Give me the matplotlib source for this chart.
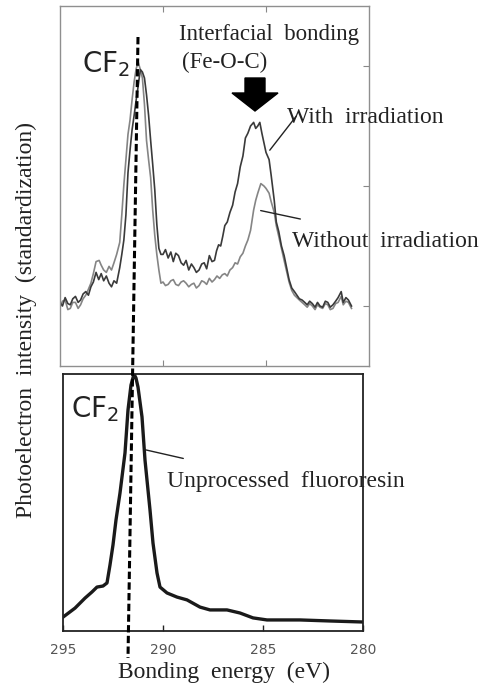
import matplotlib
matplotlib.use("Agg")
import matplotlib.pyplot as plt
from matplotlib.lines import Line2D
from matplotlib.patches import Polygon

W, H = 490, 686

# --- top panel: irradiated / non irradiated samples (binding energy eV, standardized intensity)
e_with = [295.0, 294.88, 294.75, 294.62, 294.5, 294.38, 294.25, 294.12, 294.0, 293.88,
          293.75, 293.62, 293.5, 293.38, 293.25, 293.12, 293.0, 292.88, 292.75, 292.62,
          292.5, 292.38, 292.25, 292.1, 292.0, 291.9, 291.8, 291.7, 291.6, 291.5,
          291.4, 291.3, 291.2, 291.1, 291.0, 290.9, 290.8, 290.7, 290.6, 290.5,
          290.4, 290.3, 290.2, 290.1, 290.0, 289.88, 289.75, 289.62, 289.5, 289.38,
          289.25, 289.12, 289.0, 288.88, 288.75, 288.62, 288.5, 288.38, 288.25, 288.12,
          288.0, 287.88, 287.75, 287.62, 287.5, 287.4, 287.3, 287.2, 287.1, 287.0,
          286.88, 286.75, 286.62, 286.5, 286.38, 286.25, 286.12, 286.0, 285.88, 285.75,
          285.6, 285.5, 285.4, 285.3, 285.2, 285.1, 285.0, 284.85, 284.75, 284.6,
          284.5, 284.38, 284.25, 284.12, 284.0, 283.88, 283.75, 283.62, 283.5, 283.38,
          283.25, 283.12, 283.0, 282.88, 282.75, 282.62, 282.5, 282.38, 282.25, 282.12,
          282.0, 281.88, 281.75, 281.62, 281.5, 281.35, 281.25, 281.12, 281.0, 280.85]
i_with = [1.03, 1.00, 1.07, 1.02, 1.01, 1.06, 1.08, 1.03, 1.05, 1.10,
          1.12, 1.09, 1.16, 1.20, 1.28, 1.22, 1.27, 1.21, 1.25, 1.19,
          1.16, 1.21, 1.19, 1.32, 1.43, 1.55, 1.76, 2.11, 2.30, 2.47,
          2.59, 2.72, 2.84, 2.97, 2.95, 2.90, 2.76, 2.59, 2.38, 2.18,
          1.97, 1.68, 1.48, 1.43, 1.43, 1.47, 1.40, 1.45, 1.37, 1.44,
          1.42, 1.36, 1.34, 1.38, 1.30, 1.35, 1.32, 1.28, 1.30, 1.35,
          1.36, 1.31, 1.42, 1.37, 1.38, 1.46, 1.51, 1.50, 1.58, 1.67,
          1.70, 1.78, 1.84, 1.95, 2.02, 2.16, 2.25, 2.40, 2.44, 2.50,
          2.53, 2.48, 2.50, 2.53, 2.44, 2.36, 2.28, 2.22, 2.09, 1.88,
          1.70, 1.62, 1.50, 1.42, 1.32, 1.22, 1.15, 1.12, 1.09, 1.06,
          1.05, 1.03, 1.01, 1.04, 1.02, 0.99, 1.03, 1.00, 0.99, 1.04,
          1.03, 0.99, 1.01, 1.04, 1.07, 1.12, 1.03, 1.07, 1.05, 1.00]

e_without = [295.0, 294.88, 294.75, 294.62, 294.5, 294.38, 294.25, 294.12, 294.0, 293.88,
             293.75, 293.62, 293.5, 293.38, 293.25, 293.1, 293.0, 292.88, 292.75, 292.62,
             292.5, 292.38, 292.25, 292.1, 292.0, 291.9, 291.8, 291.7, 291.6, 291.5,
             291.4, 291.3, 291.2, 291.1, 291.0, 290.9, 290.8, 290.7, 290.6, 290.5,
             290.4, 290.3, 290.2, 290.1, 290.0, 289.88, 289.75, 289.62, 289.5, 289.38,
             289.25, 289.12, 289.0, 288.88, 288.75, 288.62, 288.5, 288.38, 288.25, 288.12,
             288.0, 287.88, 287.75, 287.62, 287.5, 287.38, 287.25, 287.12, 287.0, 286.88,
             286.75, 286.62, 286.5, 286.38, 286.25, 286.12, 286.0, 285.88, 285.75, 285.6,
             285.5, 285.4, 285.25, 285.1, 285.0, 284.85, 284.75, 284.6, 284.5, 284.38,
             284.25, 284.12, 284.0, 283.88, 283.75, 283.62, 283.5, 283.38, 283.25, 283.12,
             283.0, 282.88, 282.75, 282.62, 282.5, 282.38, 282.25, 282.12, 282.0, 281.88,
             281.75, 281.62, 281.5, 281.35, 281.25, 281.12, 281.0, 280.85]
i_without = [0.99, 1.04, 1.05, 0.97, 0.98, 1.03, 1.03, 0.98, 1.01, 1.06,
             1.09, 1.14, 1.19, 1.27, 1.37, 1.38, 1.34, 1.30, 1.28, 1.33,
             1.30, 1.36, 1.43, 1.53, 1.76, 2.01, 2.22, 2.43, 2.55, 2.72,
             2.87, 2.98, 3.03, 2.97, 2.90, 2.68, 2.38, 2.22, 2.07, 1.80,
             1.59, 1.43, 1.30, 1.19, 1.20, 1.17, 1.18, 1.21, 1.22, 1.18,
             1.17, 1.20, 1.21, 1.19, 1.16, 1.18, 1.19, 1.15, 1.17, 1.21,
             1.20, 1.18, 1.23, 1.20, 1.22, 1.25, 1.23, 1.26, 1.27, 1.25,
             1.30, 1.32, 1.36, 1.35, 1.41, 1.44, 1.50, 1.55, 1.63, 1.80,
             1.88, 1.94, 2.02, 2.00, 1.98, 1.94, 1.87, 1.78, 1.67, 1.58,
             1.48, 1.38, 1.29, 1.20, 1.13, 1.09, 1.07, 1.05, 1.03, 1.01,
             0.99, 1.02, 1.00, 0.97, 1.01, 0.99, 0.98, 1.02, 1.01, 0.97,
             0.98, 1.02, 1.03, 1.08, 1.01, 1.04, 1.03, 0.98]

# --- bottom panel: unprocessed fluororesin
e_raw = [295.0, 294.4, 293.9, 293.55, 293.3, 293.0, 292.8, 292.65, 292.5, 292.35,
         292.15, 291.9, 291.75, 291.6, 291.45, 291.35, 291.25, 291.05, 290.9, 290.65,
         290.5, 290.3, 290.15, 289.8, 289.3, 288.8, 288.15, 287.65, 286.8, 286.15,
         285.5, 284.8, 283.15, 281.65, 280.0]
i_raw = [0.054, 0.089, 0.128, 0.152, 0.171, 0.175, 0.187, 0.257, 0.335, 0.432,
         0.537, 0.693, 0.86, 0.957, 1.0, 0.984, 0.949, 0.833, 0.665, 0.471,
         0.342, 0.226, 0.171, 0.148, 0.132, 0.121, 0.093, 0.082, 0.082, 0.07,
         0.051, 0.043, 0.043, 0.039, 0.035]

x_ticks = [295, 290, 285, 280]
top_yticks = [1, 2, 3]

serif = "Liberation Serif"
sans = "DejaVu Sans"


def fp(x, y):
    # pixel position (from top-left) -> figure fraction
    return x / W, 1 - y / H


fig = plt.figure(figsize=(W / 100, H / 100), dpi=100)
fig.patch.set_facecolor("white")

ax1 = fig.add_axes([60 / W, 1 - 366 / H, 309 / W, 360 / H])
ax2 = fig.add_axes([63 / W, 1 - 631 / H, 300 / W, 257 / H])

# top panel
ax1.plot(e_without, i_without, color="#858585", lw=1.2)
ax1.plot(e_with, i_with, color="#3a3a3a", lw=1.2)
ax1.set_xlim(295, 280)
ax1.set_ylim(0.5, 3.5)
ax1.set_xticks([290, 285])
ax1.set_yticks(top_yticks)
ax1.tick_params(direction="in", length=4, width=0.8, color="#888888",
                top=True, bottom=True, left=False, right=True,
                labelbottom=False, labelleft=False)
for s in ax1.spines.values():
    s.set_color("#8f8f8f")
    s.set_linewidth(1.0)

ax1.annotate("", xy=(284.9, 2.28), xytext=(283.45, 2.6),
             arrowprops=dict(arrowstyle="-", color="#222222", lw=1.0))
ax1.annotate("", xy=(285.39, 1.80), xytext=(283.2, 1.72),
             arrowprops=dict(arrowstyle="-", color="#222222", lw=1.0))

# bottom panel
ax2.plot(e_raw, i_raw, color="#1a1a1a", lw=2.4, solid_joinstyle="round")
ax2.set_xlim(295, 280)
ax2.set_ylim(0, 1.0)
ax2.set_xticks(x_ticks)
ax2.set_yticks([])
ax2.tick_params(axis="x", direction="in", length=4, width=1.0, color="#222222",
                pad=9, labelsize=10, labelcolor="#555555")
for lab in ax2.get_xticklabels():
    lab.set_family(sans)
for s in ax2.spines.values():
    s.set_color("#222222")
    s.set_linewidth(1.3)

ax2.annotate("", xy=(291.05, 0.708), xytext=(288.85, 0.669),
             arrowprops=dict(arrowstyle="-", color="#222222", lw=1.0))

# CF2 guide line across both panels
x0, y0 = fp(138, 37)
x1, y1 = fp(128, 658)
fig.add_artist(Line2D([x0, x1], [y0, y1], transform=fig.transFigure,
                      color="black", lw=2.2, linestyle=(0, (2.4, 1.1)), zorder=5))

# arrow for the interfacial bonding
arrow_px = [(245, 78), (265, 78), (265, 93), (278, 93), (255, 111), (232, 93), (245, 93)]
fig.add_artist(Polygon([fp(x, y) for x, y in arrow_px], closed=True,
                       transform=fig.transFigure, facecolor="black", edgecolor="black"))

# texts
def ftext(x, y, s, **kw):
    fig.text(*fp(x, y), s, va="baseline", ha="left", **kw)

ftext(82, 72, r"CF$_2$", family=sans, fontsize=20, color="#222222")
ftext(71, 417, r"CF$_2$", family=sans, fontsize=20, color="#222222")
ftext(179, 40, "Interfacial  bonding", family=serif, fontsize=16.5, color="#222222")
ftext(182, 68, "(Fe-O-C)", family=serif, fontsize=16.5, color="#222222")
ftext(287, 123, "With  irradiation", family=serif, fontsize=17, color="#222222")
ftext(292, 247, "Without  irradiation", family=serif, fontsize=17, color="#222222")
ftext(167, 487, "Unprocessed  fluororesin", family=serif, fontsize=17, color="#222222")
ftext(118, 678, "Bonding  energy  (eV)", family=serif, fontsize=17, color="#222222")
fig.text(*fp(26, 320), "Photoelectron  intensity  (standardization)", rotation=90,
         ha="center", va="center", family=serif, fontsize=17, color="#222222")

fig.savefig("out.png", dpi=100)
